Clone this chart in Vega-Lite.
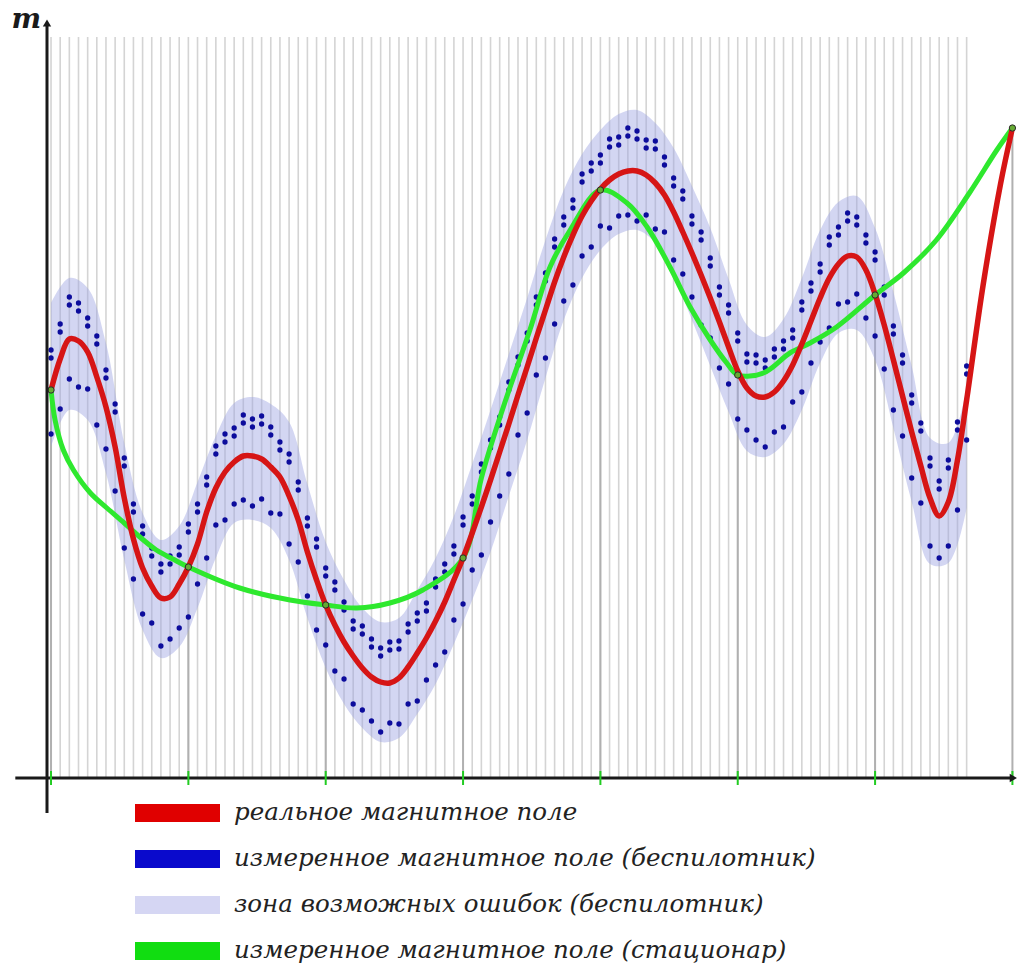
{
"$schema": "https://vega.github.io/schema/vega-lite/v6.json",
"autosize": {"type": "none"},
"width": 970, "height": 763,
"padding": {"left": 47, "top": 15, "right": 2, "bottom": 187},
"background": "white",
"config": {"view": {"stroke": null}},
"datasets": {
"s": [
{"i":0,"r":38.8,"a":42.8,"b":42.0,"c":34.4},{"i":1,"r":41.9,"a":45.4,"b":44.6,"c":36.9},{"i":2,"r":43.9,"a":48.1,"b":47.3,"c":39.9},{"i":3,"r":43.7,"a":47.5,"b":46.7,"c":39.1},{"i":4,"r":42.6,"a":46.0,"b":45.2,"c":38.9},{"i":5,"r":40.1,"a":44.2,"b":43.4,"c":35.3},{"i":6,"r":37.1,"a":40.8,"b":40.0,"c":32.9},{"i":7,"r":33.1,"a":37.4,"b":36.6,"c":28.7},{"i":8,"r":28.0,"a":32.0,"b":31.2,"c":23.0},{"i":9,"r":23.9,"a":27.4,"b":26.6,"c":19.9},
{"i":10,"r":21.0,"a":25.2,"b":24.4,"c":16.4},{"i":11,"r":19.2,"a":23.0,"b":22.2,"c":15.5},{"i":12,"r":18.0,"a":21.4,"b":20.6,"c":13.2},{"i":13,"r":18.1,"a":22.2,"b":21.4,"c":13.9},{"i":14,"r":19.4,"a":23.1,"b":22.3,"c":15.0},{"i":15,"r":21.1,"a":25.4,"b":24.6,"c":16.1},{"i":16,"r":23.4,"a":27.4,"b":26.6,"c":19.4},{"i":17,"r":26.6,"a":30.1,"b":29.3,"c":22.0},{"i":18,"r":29.0,"a":33.2,"b":32.4,"c":25.3},{"i":19,"r":30.6,"a":34.4,"b":33.6,"c":25.8},
{"i":20,"r":31.6,"a":35.0,"b":34.2,"c":27.4},{"i":21,"r":32.2,"a":36.3,"b":35.5,"c":27.8},{"i":22,"r":32.2,"a":35.9,"b":35.1,"c":27.2},{"i":23,"r":31.9,"a":36.2,"b":35.4,"c":27.9},{"i":24,"r":31.1,"a":35.1,"b":34.3,"c":26.5},{"i":25,"r":30.1,"a":33.6,"b":32.8,"c":26.4},{"i":26,"r":28.2,"a":32.4,"b":31.6,"c":23.4},{"i":27,"r":25.8,"a":29.6,"b":28.8,"c":21.6},{"i":28,"r":22.6,"a":26.0,"b":25.2,"c":18.2},{"i":29,"r":19.8,"a":23.9,"b":23.1,"c":14.8},
{"i":30,"r":17.3,"a":21.0,"b":20.2,"c":13.3},{"i":31,"r":15.3,"a":19.6,"b":18.8,"c":10.7},{"i":32,"r":13.6,"a":17.6,"b":16.8,"c":9.9},{"i":33,"r":12.2,"a":15.7,"b":14.9,"c":7.4},{"i":34,"r":11.0,"a":15.2,"b":14.4,"c":6.8},{"i":35,"r":10.1,"a":13.9,"b":13.1,"c":5.7},{"i":36,"r":9.6,"a":13.0,"b":12.2,"c":4.6},{"i":37,"r":9.5,"a":13.6,"b":12.8,"c":5.5},{"i":38,"r":10.0,"a":13.7,"b":12.9,"c":5.4},{"i":39,"r":11.1,"a":15.4,"b":14.6,"c":7.4},
{"i":40,"r":12.5,"a":16.5,"b":15.7,"c":7.7},{"i":41,"r":14.0,"a":17.5,"b":16.7,"c":9.8},{"i":42,"r":15.7,"a":19.9,"b":19.1,"c":11.3},{"i":43,"r":17.6,"a":21.4,"b":20.6,"c":12.6},{"i":44,"r":19.8,"a":23.2,"b":22.4,"c":15.8},{"i":45,"r":22.0,"a":26.1,"b":25.3,"c":17.4},{"i":46,"r":24.5,"a":28.2,"b":27.4,"c":20.8},{"i":47,"r":27.1,"a":31.4,"b":30.6,"c":22.3},{"i":48,"r":29.8,"a":33.8,"b":33.0,"c":25.6},{"i":49,"r":32.6,"a":36.1,"b":35.3,"c":28.2},
{"i":50,"r":35.4,"a":39.6,"b":38.8,"c":30.4},{"i":51,"r":38.3,"a":42.1,"b":41.3,"c":34.3},{"i":52,"r":41.1,"a":44.5,"b":43.7,"c":36.5},{"i":53,"r":44.0,"a":48.1,"b":47.3,"c":40.3},{"i":54,"r":46.8,"a":50.5,"b":49.7,"c":42.0},{"i":55,"r":49.6,"a":53.9,"b":53.1,"c":45.4},{"i":56,"r":52.1,"a":56.1,"b":55.3,"c":47.7},{"i":57,"r":54.3,"a":57.8,"b":57.0,"c":49.3},{"i":58,"r":56.2,"a":60.4,"b":59.6,"c":52.2},{"i":59,"r":57.7,"a":61.5,"b":60.7,"c":53.1},
{"i":60,"r":58.9,"a":62.3,"b":61.5,"c":55.2},{"i":61,"r":59.8,"a":63.9,"b":63.1,"c":55.0},{"i":62,"r":60.4,"a":64.1,"b":63.3,"c":56.2},{"i":63,"r":60.7,"a":65.0,"b":64.2,"c":56.3},{"i":64,"r":60.7,"a":64.7,"b":63.9,"c":55.7},{"i":65,"r":60.3,"a":63.8,"b":63.0,"c":56.3},{"i":66,"r":59.5,"a":63.7,"b":62.9,"c":54.9},{"i":67,"r":58.3,"a":62.1,"b":61.3,"c":54.6},{"i":68,"r":56.6,"a":60.0,"b":59.2,"c":51.8},{"i":69,"r":54.6,"a":58.7,"b":57.9,"c":50.4},
{"i":70,"r":52.5,"a":56.2,"b":55.4,"c":48.1},{"i":71,"r":50.3,"a":54.6,"b":53.8,"c":45.3},{"i":72,"r":48.0,"a":52.0,"b":51.2,"c":44.0},{"i":73,"r":45.6,"a":49.1,"b":48.3,"c":41.0},{"i":74,"r":43.1,"a":47.3,"b":46.5,"c":39.4},{"i":75,"r":40.7,"a":44.5,"b":43.7,"c":35.9},{"i":76,"r":39.0,"a":42.4,"b":41.6,"c":34.8},{"i":77,"r":38.2,"a":42.3,"b":41.5,"c":33.8},{"i":78,"r":38.1,"a":41.8,"b":41.0,"c":33.1},{"i":79,"r":38.6,"a":42.9,"b":42.1,"c":34.6},
{"i":80,"r":39.7,"a":43.7,"b":42.9,"c":35.1},{"i":81,"r":41.3,"a":44.8,"b":44.0,"c":37.6},{"i":82,"r":43.4,"a":47.6,"b":46.8,"c":38.6},{"i":83,"r":45.7,"a":49.5,"b":48.7,"c":41.5},{"i":84,"r":48.0,"a":51.4,"b":50.6,"c":43.6},{"i":85,"r":50.0,"a":54.1,"b":53.3,"c":45.0},{"i":86,"r":51.4,"a":55.1,"b":54.3,"c":47.4},{"i":87,"r":52.2,"a":56.5,"b":55.7,"c":47.6},{"i":88,"r":52.1,"a":56.1,"b":55.3,"c":48.4},{"i":89,"r":50.8,"a":54.3,"b":53.5,"c":46.0},
{"i":90,"r":48.4,"a":52.6,"b":51.8,"c":44.2},{"i":91,"r":45.3,"a":49.1,"b":48.3,"c":40.9},{"i":92,"r":41.8,"a":45.2,"b":44.4,"c":36.8},{"i":93,"r":38.2,"a":42.3,"b":41.5,"c":34.2},{"i":94,"r":34.6,"a":38.3,"b":37.5,"c":30.0},{"i":95,"r":31.2,"a":35.5,"b":34.7,"c":27.5},{"i":96,"r":28.0,"a":32.0,"b":31.2,"c":23.2},{"i":97,"r":26.2,"a":29.7,"b":28.9,"c":22.0},{"i":98,"r":27.6,"a":31.8,"b":31.0,"c":23.2},{"i":99,"r":31.8,"a":35.6,"b":34.8,"c":26.8},
{"i":100,"r":37.8,"a":41.2,"b":40.4,"c":33.8},
{"i":101.8,"r":49.3},{"i":103.7,"r":59.4},{"i":105,"r":65.0}
],
"band": [
{"i":0,"lo":33.1,"hi":47.5},{"i":2,"lo":36.8,"hi":50.0},{"i":4,"lo":35.8,"hi":49.0},{"i":6,"lo":30.5,"hi":43.5},{"i":8,"lo":21.8,"hi":33.5},{"i":10,"lo":14.8,"hi":26.5},{"i":12,"lo":12.0,"hi":23.8},{"i":14,"lo":13.1,"hi":25.2},{"i":16,"lo":17.0,"hi":29.6},{"i":18,"lo":22.0,"hi":34.2},
{"i":20,"lo":25.5,"hi":37.5},{"i":22,"lo":25.8,"hi":38.1},{"i":24,"lo":25.0,"hi":37.4},{"i":26,"lo":21.8,"hi":35.6},{"i":28,"lo":16.0,"hi":29.4},{"i":30,"lo":11.0,"hi":23.6},{"i":32,"lo":7.4,"hi":19.8},{"i":34,"lo":5.0,"hi":17.0},{"i":36,"lo":3.6,"hi":15.6},{"i":38,"lo":4.0,"hi":16.0},
{"i":40,"lo":6.4,"hi":18.8},{"i":42,"lo":9.4,"hi":22.0},{"i":44,"lo":13.4,"hi":26.2},{"i":46,"lo":17.8,"hi":31.4},{"i":48,"lo":22.6,"hi":36.8},{"i":50,"lo":28.2,"hi":42.4},{"i":52,"lo":33.8,"hi":48.0},{"i":54,"lo":40.0,"hi":53.8},{"i":56,"lo":45.8,"hi":58.8},{"i":58,"lo":50.0,"hi":62.4},
{"i":60,"lo":52.8,"hi":64.8},{"i":62,"lo":54.4,"hi":66.4},{"i":64,"lo":54.8,"hi":66.8},{"i":66,"lo":53.5,"hi":65.5},{"i":68,"lo":50.2,"hi":63.0},{"i":70,"lo":45.8,"hi":59.2},{"i":72,"lo":41.2,"hi":55.0},{"i":74,"lo":36.6,"hi":49.9},{"i":76,"lo":32.7,"hi":45.3},{"i":78,"lo":32.1,"hi":44.1},
{"i":80,"lo":33.4,"hi":45.9},{"i":82,"lo":36.8,"hi":50.0},{"i":84,"lo":41.5,"hi":54.8},{"i":86,"lo":44.5,"hi":57.6},{"i":88,"lo":44.8,"hi":58.2},{"i":90,"lo":41.8,"hi":55.0},{"i":92,"lo":35.0,"hi":48.6},{"i":94,"lo":27.6,"hi":41.2},{"i":96,"lo":21.4,"hi":34.0},{"i":98,"lo":21.5,"hi":33.5},{"i":100,"lo":27.0,"hi":39.0}
],
"green": [
{"i":0,"m":38.8},{"i":0.44,"m":35.8},{"i":1.34,"m":32.8},{"i":2.45,"m":30.8},{"i":4.3,"m":28.5},{"i":6.1,"m":27.0},{"i":8.0,"m":25.5},{"i":9.7,"m":24.1},{"i":11.5,"m":22.8},{"i":13.3,"m":21.9},{"i":15,"m":21.1},
{"i":20.6,"m":19.0},{"i":26.1,"m":17.8},{"i":30,"m":17.3},{"i":33.4,"m":17.0},{"i":37.0,"m":17.5},{"i":40.6,"m":18.8},{"i":45,"m":22.0},{"i":47,"m":30.0},{"i":49.4,"m":37.1},{"i":52.3,"m":44.8},{"i":54.5,"m":51.1},{"i":56.7,"m":54.8},{"i":60,"m":58.8},
{"i":62.9,"m":57.5},{"i":65.1,"m":55.1},{"i":67.6,"m":51.1},{"i":69.8,"m":47.1},{"i":72.0,"m":43.8},{"i":73.8,"m":41.5},{"i":75,"m":40.3},{"i":77.8,"m":40.5},{"i":80.7,"m":42.5},{"i":82.9,"m":43.5},{"i":85.8,"m":45.1},{"i":90,"m":48.3},
{"i":93.1,"m":50.5},{"i":96.7,"m":53.8},{"i":100.3,"m":58.5},{"i":103.3,"m":62.8},{"i":105,"m":65.0}
],
"st": [
{"i":0,"m":38.8},{"i":15,"m":21.1},{"i":30,"m":17.3},{"i":45,"m":22.0},{"i":60,"m":58.8},{"i":75,"m":40.3},{"i":90,"m":48.3},{"i":105,"m":65.0}
],
"leg": [
{"s":"реальное магнитное поле"},{"s":"измеренное магнитное поле (беспилотник)"},{"s":"зона возможных ошибок (беспилотник)"},{"s":"измеренное магнитное поле (стационар)"}
]
},
"layer": [
{"data": {"name": "s"}, "transform": [{"filter": "datum.i <= 100"}],
 "mark": {"type": "rule", "stroke": "#d4d4d4", "strokeWidth": 1.6},
 "encoding": {"x": {"field": "i", "type": "quantitative", "scale": {"domain": [-0.44, 105.5], "nice": false, "zero": false}, "axis": null},
  "y": {"datum": 0, "type": "quantitative", "scale": {"domain": [0, 76.3], "nice": false, "zero": false}, "axis": null},
  "y2": {"datum": 74.1}}},
{"data": {"name": "st"},
 "mark": {"type": "rule", "stroke": "#b0b0b0", "strokeWidth": 2},
 "encoding": {"x": {"field": "i", "type": "quantitative", "axis": null}, "y": {"field": "m", "type": "quantitative", "axis": null}, "y2": {"datum": 0}}},
{"data": {"name": "band"},
 "mark": {"type": "area", "interpolate": "catmull-rom", "fill": "#9ea4e2", "opacity": 0.45},
 "encoding": {"x": {"field": "i", "type": "quantitative", "axis": null}, "y": {"field": "lo", "type": "quantitative", "axis": null}, "y2": {"field": "hi"}}},
{"data": {"name": "s"}, "transform": [{"filter": "datum.i <= 100"}, {"fold": ["a", "b", "c"], "as": ["k", "v"]}],
 "mark": {"type": "point", "filled": true, "color": "#0c0c9c", "size": 28, "opacity": 1},
 "encoding": {"x": {"field": "i", "type": "quantitative", "axis": null}, "y": {"field": "v", "type": "quantitative", "axis": null}}},
{"data": {"name": "green"},
 "mark": {"type": "line", "interpolate": "catmull-rom", "stroke": "#2ee82e", "strokeWidth": 5},
 "encoding": {"x": {"field": "i", "type": "quantitative", "axis": null}, "y": {"field": "m", "type": "quantitative", "axis": null}}},
{"data": {"name": "s"},
 "mark": {"type": "line", "interpolate": "catmull-rom", "stroke": "#d61515", "strokeWidth": 5.5},
 "encoding": {"x": {"field": "i", "type": "quantitative", "axis": null}, "y": {"field": "r", "type": "quantitative", "axis": null}}},
{"data": {"name": "st"},
 "mark": {"type": "point", "filled": true, "fill": "#66aa33", "stroke": "#2b2b2b", "strokeWidth": 1, "size": 40, "opacity": 1},
 "encoding": {"x": {"field": "i", "type": "quantitative", "axis": null}, "y": {"field": "m", "type": "quantitative", "axis": null}}},
{"data": {"values": [{}]},
 "mark": {"type": "rule", "stroke": "#1a1a1a", "strokeWidth": 3, "clip": false},
 "encoding": {"x": {"datum": -0.44, "type": "quantitative", "axis": null}, "y": {"datum": -3.5, "type": "quantitative", "axis": null}, "y2": {"datum": 75.4}}},
{"data": {"values": [{}]},
 "mark": {"type": "rule", "stroke": "#1a1a1a", "strokeWidth": 3, "clip": false},
 "encoding": {"x": {"datum": -3.9, "type": "quantitative", "axis": null}, "x2": {"datum": 104.9}, "y": {"datum": 0, "type": "quantitative", "axis": null}}},
{"data": {"name": "st"},
 "mark": {"type": "rule", "stroke": "#22cc22", "strokeWidth": 2, "clip": false},
 "encoding": {"x": {"field": "i", "type": "quantitative", "axis": null}, "y": {"datum": -0.7, "type": "quantitative", "axis": null}, "y2": {"datum": 0.7}}},
{"data": {"values": [{}]},
 "mark": {"type": "point", "shape": "triangle-up", "filled": true, "color": "#1a1a1a", "size": 70, "opacity": 1, "clip": false},
 "encoding": {"x": {"datum": -0.44, "type": "quantitative", "axis": null}, "y": {"datum": 75.5, "type": "quantitative", "axis": null}}},
{"data": {"values": [{}]},
 "mark": {"type": "point", "shape": "triangle-right", "filled": true, "color": "#1a1a1a", "size": 70, "opacity": 1, "clip": false},
 "encoding": {"x": {"datum": 105.1, "type": "quantitative", "axis": null}, "y": {"datum": 0, "type": "quantitative", "axis": null}}},
{"data": {"values": [{"t": "m"}]},
 "mark": {"type": "text", "font": "DejaVu Serif", "fontStyle": "italic", "fontWeight": "bold", "fontSize": 28, "color": "#1a1a1a", "align": "center", "baseline": "middle", "clip": false},
 "encoding": {"text": {"field": "t", "type": "nominal"}, "x": {"datum": -2.7, "type": "quantitative", "axis": null}, "y": {"datum": 75.8, "type": "quantitative", "axis": null}}},
{"data": {"name": "leg"},
 "mark": {"type": "point", "filled": true, "opacity": 0},
 "encoding": {"color": {"field": "s", "type": "nominal",
   "scale": {"domain": ["реальное магнитное поле", "измеренное магнитное поле (беспилотник)", "зона возможных ошибок (беспилотник)", "измеренное магнитное поле (стационар)"], "range": ["#e00000", "#0a0acc", "#d5d6f3", "#11dd11"]},
   "legend": {"orient": "none", "legendX": 88, "legendY": 778, "title": null, "symbolType": "M-1,-0.21H1V0.21H-1Z", "symbolSize": 7225, "symbolStrokeWidth": 0, "symbolOpacity": 1, "labelFont": "DejaVu Serif", "labelFontStyle": "italic", "labelFontSize": 24.5, "labelColor": "#222222", "labelOffset": 14, "labelLimit": 0, "clipHeight": 40, "rowPadding": 6, "padding": 0}}}}
]
}
